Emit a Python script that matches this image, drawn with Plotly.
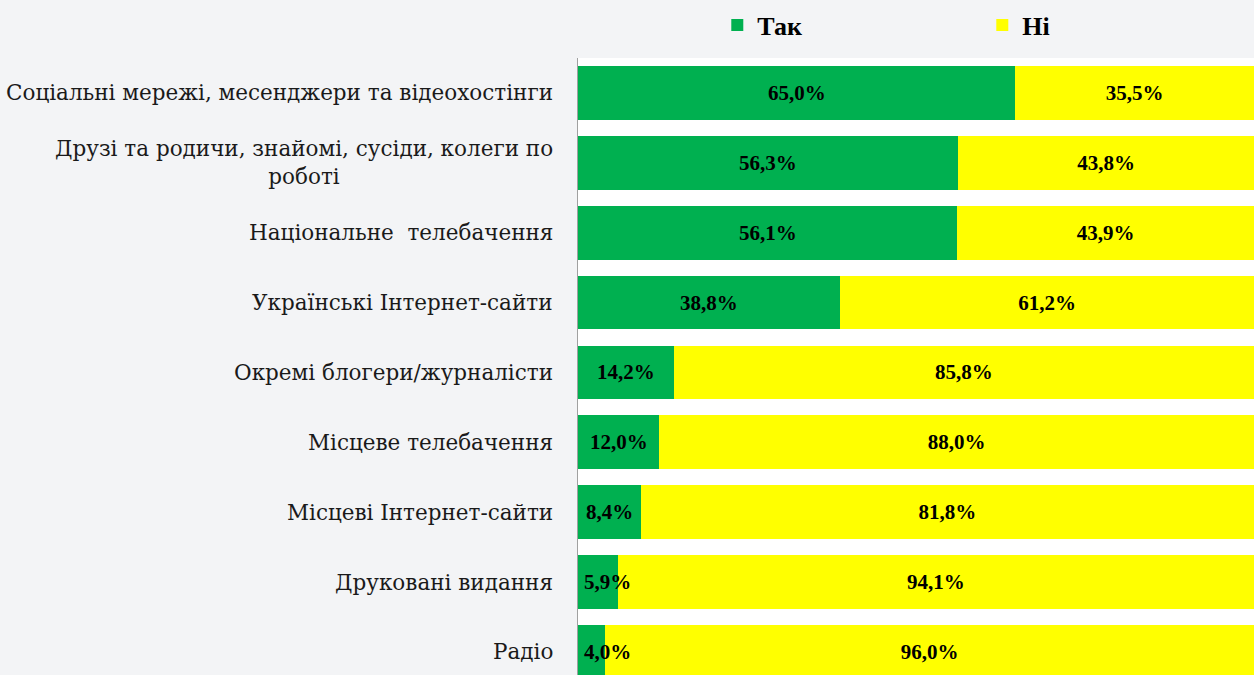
import plotly.graph_objects as go

# джерела інформації
categories = [
    "Соціальні мережі, месенджери та відеохостінги",
    "Друзі та родичи, знайомі, сусіди, колеги по<br>роботі",
    "Національне  телебачення",
    "Українські Інтернет-сайти",
    "Окремі блогери/журналісти",
    "Місцеве телебачення",
    "Місцеві Інтернет-сайти",
    "Друковані видання",
    "Радіо",
]
tak = [65.0, 56.3, 56.1, 38.8, 14.2, 12.0, 8.4, 5.9, 4.0]
ni = [35.5, 43.8, 43.9, 61.2, 85.8, 88.0, 81.8, 94.1, 96.0]

GREEN = "#00B050"
YELLOW = "#FFFF00"
BG = "#F3F4F6"
VAL_FONT = dict(family="Liberation Serif", size=21, color="black", weight="bold")


def fmt(v):
    return f"{v:.1f}%".replace(".", ",")


fig = go.Figure()
fig.add_trace(go.Bar(
    y=categories, x=tak, name="Так", orientation="h",
    marker=dict(color=GREEN, line=dict(width=0)),
    textposition="none",
))
fig.add_trace(go.Bar(
    y=categories, x=ni, name="Ні", orientation="h",
    marker=dict(color=YELLOW, line=dict(width=0)),
    text=[fmt(v) for v in ni],
    textposition="inside", insidetextanchor="middle", textangle=0,
    constraintext="none", cliponaxis=False, textfont=VAL_FONT,
))

# підписи "Так": по центру сегмента, але не лівіше краю області (як в Excel)
for c, t, n in zip(categories, tak, ni):
    share = t / (t + n) * 100
    fig.add_annotation(
        x=max(share / 2, 4.3), xref="x", y=c, yref="y", text=fmt(t),
        showarrow=False, font=VAL_FONT,
    )

# підписи категорій (вирівнювання по центру для двох рядків)
for c in categories:
    fig.add_annotation(
        x=0, xref="paper", y=c, yref="y", text=c, showarrow=False,
        xanchor="right", align="center", xshift=-23,
        font=dict(family="DejaVu Serif", size=21.5, color="#1a1a1a"),
    )

fig.update_layout(
    width=1254, height=675,
    barmode="stack", barnorm="percent", bargap=0.23,
    paper_bgcolor=BG, plot_bgcolor="white",
    margin=dict(l=578, r=0, t=58, b=0),
    showlegend=True,
    legend=dict(
        orientation="h", xref="container", x=0.572, yref="container", y=1 - 25 / 675,
        xanchor="left", yanchor="middle", entrywidth=220, entrywidthmode="pixels",
        font=dict(family="Liberation Serif", size=26, color="black", weight="bold"),
        bgcolor="rgba(0,0,0,0)", traceorder="normal",
    ),
    xaxis=dict(range=[0, 100], visible=False),
    yaxis=dict(
        type="category", range=[8.33, -0.5], showticklabels=False,
        showline=True, linecolor="#A0A0A0", linewidth=1, showgrid=False, ticks="",
    ),
)

fig.write_html(
    "out.html",
    config={"displayModeBar": False},
    post_script="document.body.style.margin='0';document.body.style.background='#F3F4F6';",
)
